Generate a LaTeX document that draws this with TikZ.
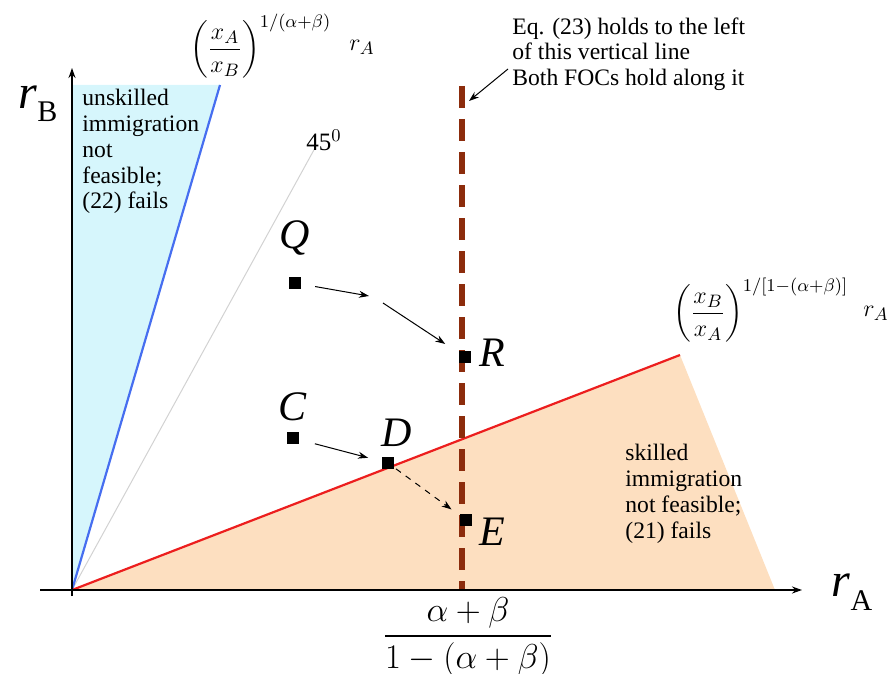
\documentclass[tikz,border=0pt]{standalone}
\usepackage{amsmath}
\usepackage{fontspec}
\setmainfont{LiberationSerif}[Extension=.ttf, UprightFont=*-Regular, ItalicFont=*-Italic, BoldFont=*-Bold, BoldItalicFont=*-BoldItalic]
\usetikzlibrary{arrows.meta}
\definecolor{skyfill}{RGB}{214,246,252}
\definecolor{bluerule}{RGB}{70,110,240}
\definecolor{redrule}{RGB}{236,30,30}
\definecolor{peachfill}{RGB}{253,223,192}
\definecolor{focbrown}{RGB}{140,44,12}

\begin{document}
\begin{tikzpicture}[x=0.5pt, y=-0.5pt,
    pt/.style={fill=black, minimum size=6pt, inner sep=0pt},
    ptlab/.style={font=\fontsize{21}{21}\selectfont\itshape, inner sep=0pt},
    note/.style={align=left, font=\fontsize{11.8}{12.9}\selectfont, inner sep=0pt},
    formula/.style={font=\fontsize{13}{15}\selectfont, inner sep=0pt},
    >={Stealth[length=5pt, width=3.5pt]}]
  \useasboundingbox (0,0) rectangle (894,674);

  % Infeasible regions
  \fill[skyfill] (73,85) -- (220,85) -- (72,590) -- cycle;
  \fill[peachfill] (72,590) -- (680,355) -- (775,590) -- cycle;

  % Rays from the origin
  \draw[gray!35, line width=0.5pt] (72,590) -- (315,148);
  \draw[bluerule, line width=1.1pt] (72,590) -- (220,85);
  \draw[redrule, line width=1.1pt] (72,590) -- (680,355);

  % Vertical line where both FOCs hold
  \draw[focbrown, line width=2.6pt, dash pattern=on 11pt off 5.5pt] (462,86) -- (462,590);

  % Axes
  \draw[line width=0.8pt, ->] (40,590) -- (802,590);
  \draw[line width=0.8pt, ->] (72,596) -- (72,68);
  \node[font=\fontsize{24}{24}\selectfont] (rBlab) at (38,104) {\textit{r}\raisebox{-0.28em}{\fontsize{15}{15}\selectfont B}};
  \node[font=\fontsize{24}{24}\selectfont] (rAlab) at (852,592) {\textit{r}\raisebox{-0.28em}{\fontsize{15}{15}\selectfont A}};

  % Slopes of the two rays
  \node[formula, anchor=west] (slopeB) at (190,46) {$\displaystyle\left(\frac{x_A}{x_B}\right)^{1/(\alpha+\beta)}$};
  \node[formula] (slopeBr) at (362,47) {$r_A$};
  \node[formula, anchor=west] (slopeA) at (673,310) {$\displaystyle\left(\frac{x_B}{x_A}\right)^{1/[1-(\alpha+\beta)]}$};
  \node[formula] (slopeAr) at (876,313) {$r_A$};
  \node[note, font=\fontsize{12.5}{12.5}\selectfont] (deg) at (324,140) {45$^{0}$};

  % Region notes
  \node[note, anchor=north west] (unskilled) at (82,89) {unskilled\\immigration\\not\\feasible;\\(22) fails};
  \node[note, anchor=north west] (skilled) at (625,444) {skilled\\immigration\\not feasible;\\(21) fails};
  \node[note, anchor=north west] (focNote) at (512,17) {Eq. (23) holds to the left\\of this vertical line\\Both FOCs hold along it};
  \coordinate (focTail) at (508,69);
  \coordinate (focHead) at (469,101);
  \draw[line width=0.5pt, ->] (focTail) -- (focHead);

  % Points
  \node[pt] (Q) at (295,283) {};
  \node[pt] (R) at (465,357) {};
  \node[pt] (C) at (293,438) {};
  \node[pt] (D) at (388,463) {};
  \node[pt] (E) at (466,520) {};
  \node[ptlab] (Qlab) at (295,238) {Q};
  \node[ptlab] (Rlab) at (492,353) {R};
  \node[ptlab] (Clab) at (293,407) {C};
  \node[ptlab] (Dlab) at (397,433) {D};
  \node[ptlab] (Elab) at (492,532) {E};

  % Moves between points
  \coordinate (QRa) at (369,296);
  \coordinate (QRb) at (383,303);
  \draw[line width=0.5pt, ->, shorten <=7pt] (Q) -- (QRa);
  \draw[line width=0.5pt, ->, shorten >=8pt] (QRb) -- (R);
  \draw[line width=0.5pt, ->, shorten <=8pt, shorten >=7pt] (C) -- (D);
  \draw[line width=0.5pt, ->, dashed, shorten <=1pt, shorten >=5pt] (D) -- (E);

  % Tick value on the horizontal axis
  \node[formula, font=\fontsize{16}{18}\selectfont] (cutoff) at (468,637) {$\dfrac{\alpha+\beta}{1-(\alpha+\beta)}$};
\end{tikzpicture}
\end{document}
